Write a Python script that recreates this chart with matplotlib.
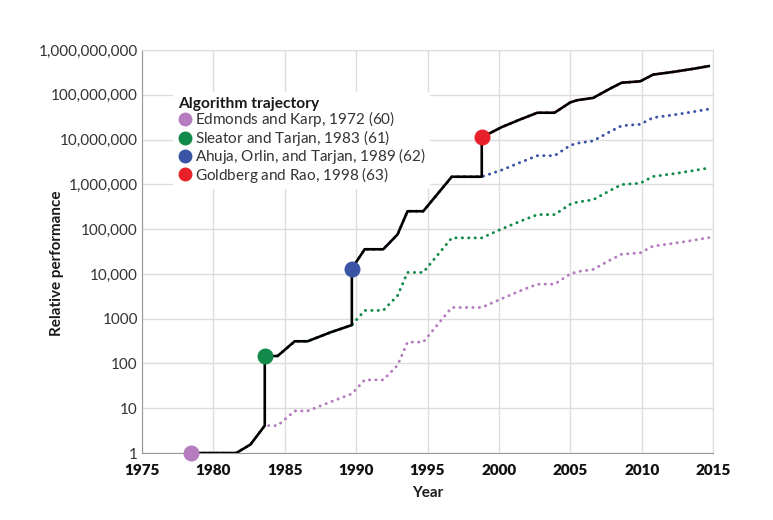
import matplotlib
matplotlib.use("Agg")
import matplotlib.pyplot as plt
from matplotlib.lines import Line2D
from matplotlib.font_manager import FontProperties

plt.rcParams['font.family'] = ['Lato', 'DejaVu Sans']
plt.rcParams['mathtext.fontset'] = 'custom'
plt.rcParams['mathtext.it'] = 'Lato:italic'
plt.rcParams['mathtext.rm'] = 'Lato'

# years
years = [1978.4, 1981.6, 1982.6, 1983.6, 1984.5, 1985.7, 1986.6, 1988.2, 1989.7,
         1990.6, 1991.9, 1992.9, 1993.6, 1994.7, 1996.7, 1998.8, 2000.2, 2001.5,
         2002.7, 2003.9, 2005.0, 2005.5, 2006.6, 2007.8, 2008.6, 2009.9, 2010.8,
         2012.2, 2013.6, 2014.7]

# Edmonds and Karp (hardware only)
ek_vals = [1, 1, 1.55, 4.1, 4.1, 8.7, 8.7, 13.8, 21, 43, 43, 91, 300, 300, 1780,
           1780, 2800, 4200, 5900, 5900, 10000, 11200, 12600, 20400, 27500, 29500,
           41700, 47900, 56200, 64600]

# Sleator and Tarjan, from 1983.6
st_vals = [147, 147, 313, 313, 495, 720, 1530, 1530, 3270, 10800, 10800, 63800,
           63800, 101000, 150000, 211000, 211000, 359000, 403000, 452000, 733000,
           989000, 1.06e6, 1.5e6, 1.72e6, 2.02e6, 2.32e6]

# Ahuja, Orlin, and Tarjan, from 1989.7
aot_vals = [13200, 35500, 35500, 76000, 251000, 251000, 1.48e6, 1.48e6, 2.09e6,
            3.09e6, 4.37e6, 4.37e6, 7.41e6, 8.32e6, 9.33e6, 1.51e7, 2.04e7, 2.19e7,
            3.09e7, 3.55e7, 4.17e7, 4.79e7]

# Goldberg and Rao, from 1998.8
gr_vals = [1.12e7, 1.9e7, 2.82e7, 3.98e7, 3.98e7, 6.76e7, 7.59e7, 8.51e7, 1.38e8,
           1.86e8, 2.0e8, 2.82e8, 3.24e8, 3.8e8, 4.37e8]

names = ["Edmonds and Karp, 1972", "Sleator and Tarjan, 1983",
         "Ahuja, Orlin, and Tarjan, 1989", "Goldberg and Rao, 1998"]
refs = ["60", "61", "62", "63"]
colors = ["#b57cbf", "#118a4a", "#3a55a6", "#e8202a"]

ytick_vals = [1, 10, 100, 1000, 1e4, 1e5, 1e6, 1e7, 1e8, 1e9]
ytick_labels = ["1", "10", "100", "1000", "10,000", "100,000", "1,000,000",
                "10,000,000", "100,000,000", "1,000,000,000"]
xtick_vals = list(range(1975, 2016, 5))

series = [ek_vals, st_vals, aot_vals, gr_vals]
starts = [len(years) - len(v) for v in series]

fig = plt.figure(figsize=(7.73, 5.2), dpi=100)
ax = fig.add_axes([0.1837, 0.1288, 0.7387, 0.7750])

# dotted trajectories per algorithm
for vals, s, c in zip(series, starts, colors):
    ax.plot(years[s:], vals, color=c, linestyle=(0, (0.1, 2.1)),
            dash_capstyle='round', linewidth=2.1, zorder=3)

# best-so-far trajectory
bx, by = [], []
for i, (vals, s) in enumerate(zip(series, starts)):
    end = starts[i + 1] + 1 if i + 1 < len(series) else len(years)
    bx += years[s:end]
    by += vals[:end - s]
ax.plot(bx, by, color='black', linewidth=1.9, zorder=4, solid_joinstyle='round')

for vals, s, c in zip(series, starts, colors):
    ax.plot(years[s], vals[0], 'o', color=c, markersize=10.5, zorder=5,
            clip_on=False)

ax.set_yscale('log')
ax.set_ylim(1, 1e9)
ax.set_xlim(1975, 2015)
ax.tick_params(axis='both', length=0)
ax.tick_params(axis='y', pad=3)
ax.tick_params(axis='x', pad=8)
ax.set_yticks(ytick_vals)
ax.set_yticklabels(ytick_labels, fontsize=11, color='#333333')
ax.minorticks_off()
bold_fp = FontProperties(family=['Lato', 'DejaVu Sans'], weight='heavy', size=11)
ax.set_xticks(xtick_vals)
ax.set_xticklabels([str(x) for x in xtick_vals], fontproperties=bold_fp,
                   color='#111111')
ax.grid(True, color='#dddddd', linewidth=1)
ax.set_axisbelow(True)
for side in ['top', 'right']:
    ax.spines[side].set_color('#dddddd')
for side in ['left', 'bottom']:
    ax.spines[side].set_color('#999999')

ax.set_ylabel("Relative performance", fontsize=11, fontweight='bold',
              color='#1a1a1a')
ax.yaxis.set_label_coords(-0.137, 0.47)
ax.set_xlabel("Year", fontsize=11, fontweight='bold', color='#1a1a1a')
ax.xaxis.set_label_coords(0.5, -0.082)

handles = [Line2D([], [], marker='o', linestyle='none', color=c, markersize=9)
           for c in colors]
labels = [f"{n} ($\\mathit{{{r}}}$)" for n, r in zip(names, refs)]
leg = ax.legend(handles, labels, title="Algorithm trajectory", loc='upper left',
                bbox_to_anchor=(0.055, 0.895), frameon=True, fontsize=11,
                title_fontsize=11.2, handletextpad=0.2, handlelength=0.9,
                borderpad=0.3, labelspacing=-0.1, borderaxespad=0)
leg.get_frame().set_edgecolor('none')
leg.get_frame().set_facecolor('white')
leg.get_frame().set_alpha(1)
leg.get_title().set_fontweight('bold')
leg.get_title().set_color('#1a1a1a')
leg._legend_box.align = "left"
for t in leg.get_texts():
    t.set_color('#333333')

fig.savefig("out.png", dpi=100)
